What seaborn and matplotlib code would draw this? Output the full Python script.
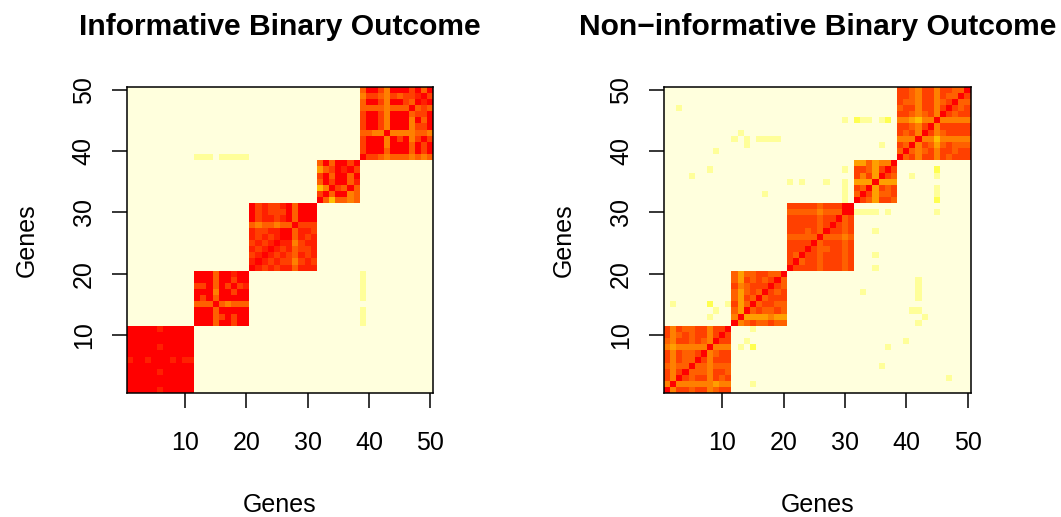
import numpy as np
import matplotlib
matplotlib.use("Agg")
import matplotlib.pyplot as plt
from matplotlib.colors import ListedColormap
import seaborn as sns

# ---------------------------------------------------------------------------
# Data: gene-by-gene co-clustering levels (0 = strongest, 11 = none).
# Each block is written as drawn: first string = highest gene of the block,
# characters run left to right over increasing genes.  Levels are hex digits.
# ---------------------------------------------------------------------------
N_GENES = 50
GENE_TICKS = [10, 20, 30, 40, 50]
BLOCKS = [(1, 11), (12, 20), (21, 31), (32, 38), (39, 50)]

HEAT_COLORS = ["#FF0000", "#FF2000", "#FF4000", "#FF6000", "#FF8000", "#FF9F00",
               "#FFBF00", "#FFDF00", "#FFFF00", "#FFFF50", "#FFFF99", "#FFFFDD"]

TITLES = ["Informative Binary Outcome", "Non\u2212informative Binary Outcome"]

INF_BLOCK_A = ["00000100000", "00000000000", "00000000000", "00000100000",
               "00000000000", "10010001011", "00000000000", "00000100000",
               "00000000000", "00000000000", "00000100000"]
INF_BLOCK_B = ["000300100", "000300200", "220302021", "000400200", "020300000",
               "333034333", "000300000", "000320200", "000300200"]
INF_BLOCK_C = ["02122103000", "02122203000", "02112103000", "34334330222",
               "12211003112", "12121003121", "21210114211", "12101213221",
               "21012123121", "10121224212", "01212113111"]
INF_BLOCK_D = ["3030020", "5320102", "2030030", "3020031", "6402303",
               "2030043", "0363343"]
INF_BLOCK_E = ["300240002030", "422342322102", "300240023010", "333343330323",
               "200240003220", "200240004030", "200240004220", "334404444334",
               "200040204202", "200040003020", "200030003020", "022343334343"]
INF_SPOTS = [(12, 39, "a"), (13, 39, "a"), (14, 39, "a"), (16, 39, "a"),
             (17, 39, "a"), (18, 39, "a"), (19, 39, "a"), (20, 39, "a")]

NON_BLOCK_A = ["24233224220", "24323224202", "34223234022", "45444440444",
               "24233204322", "24233024222", "34330334333", "24203334223",
               "24023224232", "40444444544", "04223224322"]
NON_BLOCK_B = ["353322330", "352323203", "243222023", "353230232", "352303222",
               "253032233", "350323323", "405555455", "043233233"]
NON_BLOCK_C = ["22222322200", "33333433300", "22222322032", "22222320232",
               "22232302232", "33333033343", "22220322232", "22202332232",
               "23022322232", "20322322232", "02222322232"]
NON_BLOCK_D = ["5535440", "2235202", "2425023", "5550555", "2305232",
               "3025332", "0235223"]
NON_BLOCK_E = ["223422422330", "223422423302", "233422432033", "322422420232",
               "223432402322", "445644044444", "223420422222", "232402432222",
               "444044644444", "230423532333", "303432422322", "032422423222"]
NON_SPOTS = [(3, 47, "a"), (13, 43, "a"), (12, 42, "a"), (14, 42, "a"),
             (14, 41, "a"), (16, 42, "a"), (17, 42, "a"), (18, 42, "a"),
             (19, 42, "a"), (36, 41, "a"), (9, 40, "a"), (8, 37, "a"),
             (5, 36, "a"), (30, 45, "a"), (32, 45, "9"), (33, 45, "a"),
             (34, 45, "a"), (36, 45, "a"), (37, 45, "9"), (30, 32, "a"),
             (30, 33, "a"), (30, 34, "a"), (30, 35, "a"), (30, 37, "a"),
             (21, 35, "a"), (23, 35, "a"), (27, 35, "a"), (17, 33, "a"),
             (2, 15, "a"), (8, 15, "9"), (11, 15, "a"), (9, 14, "a"),
             (8, 13, "a")]


def assemble(block_rows, spots):
    """Matrix indexed [y gene - 1, x gene - 1] filled with colour levels."""
    m = np.full((N_GENES, N_GENES), len(HEAT_COLORS) - 1, dtype=int)
    for (lo, hi), rows in zip(BLOCKS, block_rows):
        for r, line in enumerate(rows):
            g = hi - r
            for c, ch in enumerate(line):
                m[g - 1, lo - 1 + c] = int(ch, 16)
    for a, b, ch in spots:
        m[a - 1, b - 1] = m[b - 1, a - 1] = int(ch, 16)
    return m


matrices = [
    assemble([INF_BLOCK_A, INF_BLOCK_B, INF_BLOCK_C, INF_BLOCK_D, INF_BLOCK_E], INF_SPOTS),
    assemble([NON_BLOCK_A, NON_BLOCK_B, NON_BLOCK_C, NON_BLOCK_D, NON_BLOCK_E], NON_SPOTS),
]

sns.set_style("white")
plt.rcParams["font.family"] = ["Liberation Sans", "DejaVu Sans"]
plt.rcParams.update({"text.color": "black", "axes.labelcolor": "black",
                     "xtick.color": "black", "ytick.color": "black"})

W, H = 1061, 517
fig = plt.figure(figsize=(W / 100, H / 100), dpi=100)
cmap = ListedColormap(HEAT_COLORS)

panel_left = [126.7, 664.0]
panel_w, panel_h = 306.6, 306.6
panel_top = 86.7

for k, (mat, title) in enumerate(zip(matrices, TITLES)):
    ax = fig.add_axes([panel_left[k] / W, (H - panel_top - panel_h) / H,
                       panel_w / W, panel_h / H])
    sns.heatmap(mat, ax=ax, cmap=cmap, vmin=-0.5, vmax=len(HEAT_COLORS) - 0.5,
                cbar=False, xticklabels=False, yticklabels=False, linewidths=0)
    ax.invert_yaxis()
    ax.set_xlim(0, N_GENES)
    ax.set_ylim(0, N_GENES)

    for s in ax.spines.values():
        s.set_visible(True)
        s.set_color("black")
        s.set_linewidth(1.1)

    pos = [t - 0.5 for t in GENE_TICKS]
    ax.set_xticks(pos)
    ax.set_xticklabels([str(t) for t in GENE_TICKS])
    ax.set_yticks(pos)
    ax.set_yticklabels([str(t) for t in GENE_TICKS], rotation=90, va="center")

    ax.tick_params(axis="both", direction="out", length=10.8, width=1.1,
                   labelsize=18, colors="black", labelcolor="black",
                   bottom=True, left=True)
    ax.tick_params(axis="x", pad=16.5)
    ax.tick_params(axis="y", pad=11.5)

    ax.set_xlabel("Genes", fontsize=18, color="black")
    ax.set_ylabel("Genes", fontsize=18, color="black")
    ax.xaxis.set_label_coords(0.5, -0.325)
    ax.yaxis.set_label_coords(-0.287, 0.5)

    ax.set_title(title, fontsize=21.6, fontweight="bold", pad=37.2, color="black")

fig.savefig("out.png", dpi=100)
